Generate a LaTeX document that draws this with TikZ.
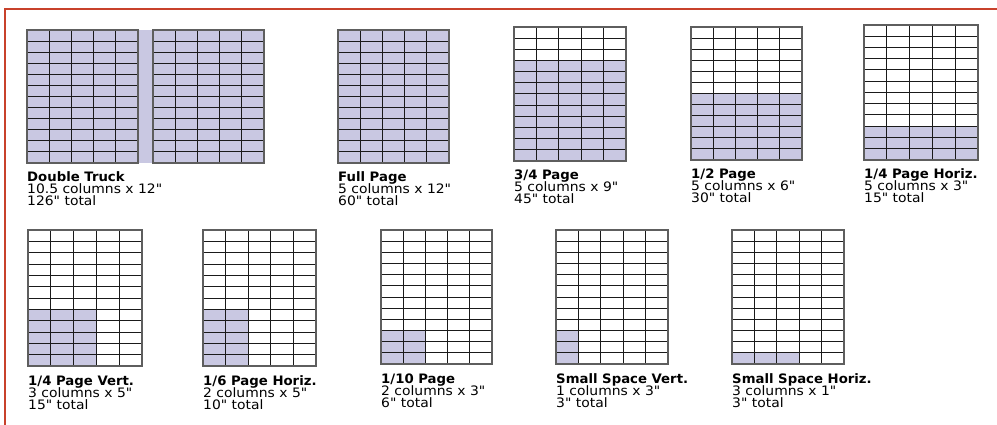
\documentclass[tikz,border=0pt]{standalone}
\usepackage{fontspec}
\newfontfamily\lblreg[FakeStretch=1.07]{DejaVu Sans}
\newfontfamily\lblbold[FakeStretch=1.02]{DejaVu Sans Bold}
\definecolor{frame}{HTML}{C8412B}
\definecolor{lav}{HTML}{C9C8E2}
\definecolor{edge}{HTML}{5E5E5E}
\definecolor{inner}{HTML}{1A1A1A}
\tikzset{
  gridedge/.style={draw=edge, line width=1.5pt},
  gridinner/.style={draw=inner, line width=1pt},
  fillpart/.style={fill=lav},
  lbl/.style={anchor=base west, inner sep=0pt, font=\fontsize{13}{13}\lblreg},
  lblt/.style={anchor=base west, inner sep=0pt, font=\fontsize{13}{13}\lblbold},
}
% #1 name, #2 x0, #3 y0, #4 x1, #5 y1, #6 filled cols, #7 filled rows
\newcommand\adgrid[7]{%
  \pgfmathsetmacro\cw{(#4-#2)/5}%
  \pgfmathsetmacro\rh{(#5-#3)/12}%
  \ifnum#6>0
    \fill[fillpart] (#2,#5) rectangle ({#2+#6*\cw},{#5-#7*\rh});
  \fi
  \foreach \i in {1,...,4} {\draw[gridinner] ({#2+\i*\cw},#3) -- ({#2+\i*\cw},#5);}
  \foreach \j in {1,...,11} {\draw[gridinner] (#2,{#3+\j*\rh}) -- (#4,{#3+\j*\rh});}
  \draw[gridedge] (#2,#3) rectangle (#4,#5);
  \coordinate (#1) at (#2,#5);
}
% #1 name, #2 title, #3 line2, #4 line3
\newcommand\adlabel[4]{%
  \node[lblt] (#1t) at ([yshift=-19pt]#1) {#2};
  \node[lbl] (#1a) at ([yshift=-31pt]#1) {#3};
  \node[lbl] (#1b) at ([yshift=-43pt]#1) {#4};
}
\begin{document}
\begin{tikzpicture}[x=1pt,y=-1pt]
\useasboundingbox (0,0) rectangle (997,425);
\fill[white] (0,0) rectangle (997,425);
% red frame
\draw[frame, line width=2.4pt] (5,425) -- (5,9) -- (997,9);
% Double truck
\fill[fillpart] (138,30) rectangle (153,163);
\adgrid{dtl}{27}{30}{138}{163}{5}{12}
\adgrid{dt}{153}{30}{264}{163}{5}{12}
\coordinate (dtlab) at (27,163);
\adlabel{dtlab}{Double Truck}{10.5 columns x 12"}{126" total}
% Full page
\adgrid{fp}{338}{30}{449}{163}{5}{12}
\adlabel{fp}{Full Page}{5 columns x 12"}{60" total}
% 3/4
\adgrid{tq}{514}{27}{626}{161}{5}{9}
\adlabel{tq}{3/4 Page}{5 columns x 9"}{45" total}
% 1/2
\adgrid{hp}{691}{27}{802}{160}{5}{6}
\adlabel{hp}{1/2 Page}{5 columns x 6"}{30" total}
% 1/4 horiz
\adgrid{qh}{864}{25}{978}{160}{5}{3}
\adlabel{qh}{1/4 Page Horiz.}{5 columns x 3"}{15" total}
% row 2
\adgrid{qv}{28}{230}{142}{366}{3}{5}
\adlabel{qv}{1/4 Page Vert.}{3 columns x 5"}{15" total}
\adgrid{sh}{203}{230}{316}{366}{2}{5}
\adlabel{sh}{1/6 Page Horiz.}{2 columns x 5"}{10" total}
\adgrid{tp}{381}{230}{492}{364}{2}{3}
\adlabel{tp}{1/10 Page}{2 columns x 3"}{6" total}
\adgrid{sv}{556}{230}{668}{364}{1}{3}
\adlabel{sv}{Small Space Vert.}{1 columns x 3"}{3" total}
\adgrid{ssh}{732}{230}{844}{364}{3}{1}
\adlabel{ssh}{Small Space Horiz.}{3 columns x 1"}{3" total}
\end{tikzpicture}
\end{document}
